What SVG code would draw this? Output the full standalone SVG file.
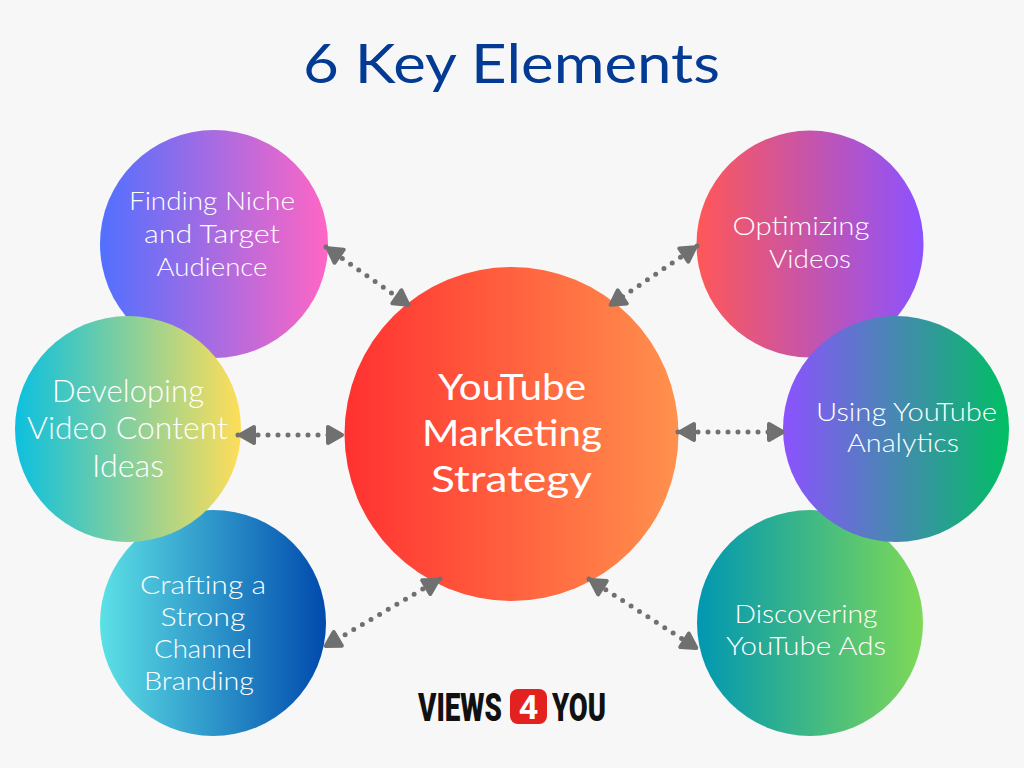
<svg xmlns="http://www.w3.org/2000/svg" width="1024" height="768" viewBox="0 0 1024 768">
<style>
.l{font-family:"Lato","Open Sans","Liberation Sans",sans-serif;font-weight:300;font-size:26px;fill:#fff;text-anchor:middle}
.m{font-size:31px}
.c{font-size:37px;font-weight:400}
.t{font-family:"Lato","Open Sans","Liberation Sans",sans-serif;font-size:54px;fill:#023a94;font-weight:400}
.b{font-family:"Roboto","Liberation Sans",sans-serif;font-weight:900;font-size:38px;fill:#111}
.a{fill:none;stroke:#707070;stroke-width:5;stroke-linecap:round;stroke-dasharray:0 10;marker-start:url(#h);marker-end:url(#h)}
</style>
<defs>
<marker id="h" viewBox="-22 -13 24 26" refX="0" refY="0" markerWidth="24" markerHeight="26" markerUnits="userSpaceOnUse" orient="auto-start-reverse">
<path d="M-2 0L-16 -8V8Z" fill="#707070" stroke="#707070" stroke-width="4" stroke-linejoin="round"/>
</marker>
<linearGradient id="g0"><stop offset="0" stop-color="#ff3131"/><stop offset="1" stop-color="#ff914d"/></linearGradient>
<linearGradient id="g1"><stop offset="0" stop-color="#5170ff"/><stop offset="1" stop-color="#ff66c4"/></linearGradient>
<linearGradient id="g2"><stop offset="0" stop-color="#ff5757"/><stop offset="1" stop-color="#8c52ff"/></linearGradient>
<linearGradient id="g3"><stop offset="0" stop-color="#0cc0df"/><stop offset="1" stop-color="#ffde59"/></linearGradient>
<linearGradient id="g4"><stop offset="0" stop-color="#8c52ff"/><stop offset="1" stop-color="#00bf63"/></linearGradient>
<linearGradient id="g5"><stop offset="0" stop-color="#5ce1e6"/><stop offset="1" stop-color="#004aad"/></linearGradient>
<linearGradient id="g6"><stop offset="0" stop-color="#0097b2"/><stop offset="1" stop-color="#7ed957"/></linearGradient>
</defs>
<rect width="1024" height="768" fill="#f7f7f7"/>
<text id="title" class="t" x="303" y="83" textLength="417" lengthAdjust="spacingAndGlyphs">6 Key Elements</text>
<g id="n-finding"><circle cx="214" cy="244" r="114" fill="url(#g1)"/>
<text class="l" x="212" y="210" textLength="166" lengthAdjust="spacingAndGlyphs">Finding Niche</text>
<text class="l" x="212" y="243" textLength="136" lengthAdjust="spacingAndGlyphs">and Target</text>
<text class="l" x="212" y="276" textLength="111" lengthAdjust="spacingAndGlyphs">Audience</text></g>
<g id="n-optimizing"><circle cx="810" cy="244" r="113.500" fill="url(#g2)"/>
<text class="l" x="801" y="235" textLength="137" lengthAdjust="spacingAndGlyphs">Optimizing</text>
<text class="l" x="810" y="268" textLength="82" lengthAdjust="spacingAndGlyphs">Videos</text></g>
<g id="n-crafting"><circle cx="213" cy="623" r="113" fill="url(#g5)"/>
<text class="l" x="203" y="594" textLength="126" lengthAdjust="spacingAndGlyphs">Crafting a</text>
<text class="l" x="203" y="626" textLength="85" lengthAdjust="spacingAndGlyphs">Strong</text>
<text class="l" x="203" y="658" textLength="98" lengthAdjust="spacingAndGlyphs">Channel</text>
<text class="l" x="199" y="690" textLength="110" lengthAdjust="spacingAndGlyphs">Branding</text></g>
<g id="n-discovering"><circle cx="810" cy="623" r="113" fill="url(#g6)"/>
<text class="l" x="806" y="623" textLength="143" lengthAdjust="spacingAndGlyphs">Discovering</text>
<text class="l" x="806" y="655" textLength="160" lengthAdjust="spacingAndGlyphs">YouTube Ads</text></g>
<g id="n-developing"><circle cx="128" cy="429" r="113" fill="url(#g3)"/>
<text class="l m" x="128" y="402" textLength="152" lengthAdjust="spacingAndGlyphs">Developing</text>
<text class="l m" x="127.500" y="439" textLength="201" lengthAdjust="spacingAndGlyphs">Video Content</text>
<text class="l m" x="128" y="477" textLength="72" lengthAdjust="spacingAndGlyphs">Ideas</text></g>
<g id="n-analytics"><circle cx="896" cy="429" r="113" fill="url(#g4)"/>
<text class="l" x="906.500" y="421" textLength="181" lengthAdjust="spacingAndGlyphs">Using YouTube</text>
<text class="l" x="903" y="452" textLength="112" lengthAdjust="spacingAndGlyphs">Analytics</text></g>
<g id="n-center"><circle cx="511.500" cy="434" r="167" fill="url(#g0)"/>
<text class="l c" x="512" y="400" textLength="148" lengthAdjust="spacingAndGlyphs">YouTube</text>
<text class="l c" x="512" y="446" textLength="180" lengthAdjust="spacingAndGlyphs">Marketing</text>
<text class="l c" x="511.500" y="492" textLength="161" lengthAdjust="spacingAndGlyphs">Strategy</text></g>
<g id="connectors">
<line class="a" x1="326" y1="247" x2="410" y2="306"/>
<line class="a" x1="697" y1="246" x2="609" y2="306"/>
<line class="a" x1="238" y1="435" x2="344" y2="435"/>
<line class="a" x1="678" y1="432" x2="785" y2="432"/>
<line class="a" x1="440" y1="579" x2="324" y2="647"/>
<line class="a" x1="589" y1="579" x2="698" y2="649"/>
</g>
<g id="logo">
<text class="b" transform="translate(418 721) scale(.73 1)" textLength="115" lengthAdjust="spacingAndGlyphs">VIEWS</text>
<rect x="510" y="689" width="37" height="35" rx="8" fill="#e3211f"/>
<text x="528.500" y="719" text-anchor="middle" style="font-family:Roboto,'Liberation Sans',sans-serif;font-weight:700;fill:#fff;font-size:34px">4</text>
<text class="b" transform="translate(552 721) scale(.73 1)" textLength="74" lengthAdjust="spacingAndGlyphs">YOU</text>
</g>
</svg>
